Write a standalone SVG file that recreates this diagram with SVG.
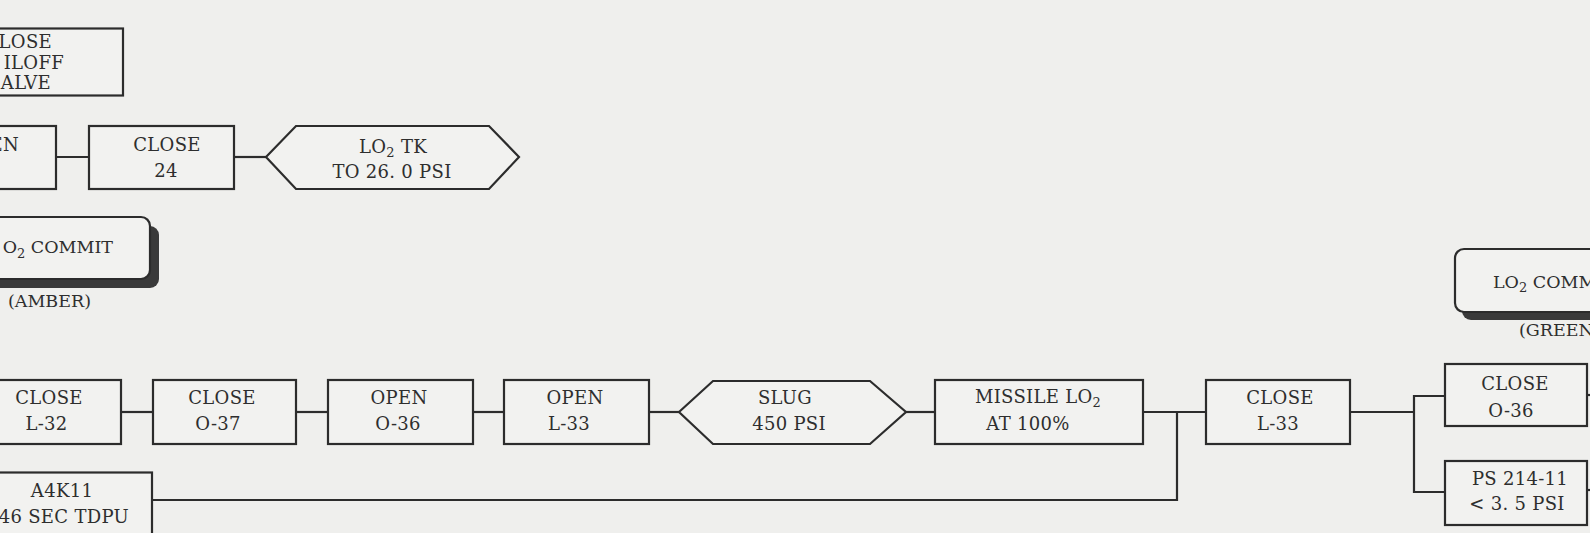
<svg xmlns="http://www.w3.org/2000/svg" width="1590" height="533" viewBox="0 0 1590 533">
  <style>
    .bg { fill: #efefed; }
    .box { fill: #f2f2f0; stroke: #2c2c2c; stroke-width: 2.2; }
    .shadow { fill: #3a3a3a; }
    .ln { fill: none; stroke: #2c2c2c; stroke-width: 2.2; }
    .t { font-family: "DejaVu Serif", "Liberation Serif", serif; font-size: 18px; fill: #2e2e2e; letter-spacing: 0.3px; }
    .c { text-anchor: middle; }
    .e { text-anchor: end; }
    .big { font-size: 17.5px; letter-spacing: 0; }
    .sub { font-size: 13px; }
  </style>

  <rect class="bg" x="0" y="0" width="1590" height="533"/>

  <!-- connectors -->
  <g id="connectors">
    <line class="ln" x1="56" y1="157" x2="89" y2="157"/>
    <line class="ln" x1="234" y1="157" x2="266" y2="157"/>
    <line class="ln" x1="121" y1="412" x2="153" y2="412"/>
    <line class="ln" x1="296" y1="412" x2="328" y2="412"/>
    <line class="ln" x1="473" y1="412" x2="504" y2="412"/>
    <line class="ln" x1="649" y1="412" x2="679" y2="412"/>
    <line class="ln" x1="906" y1="412" x2="935" y2="412"/>
    <line class="ln" x1="1143" y1="412" x2="1206" y2="412"/>
    <polyline class="ln" points="152,500 1177,500 1177,412"/>
    <line class="ln" x1="1350" y1="412" x2="1414" y2="412"/>
    <polyline class="ln" points="1445,396 1414,396 1414,492 1445,492"/>
    <line class="ln" x1="1587" y1="395" x2="1590" y2="395"/>
    <line class="ln" x1="1587" y1="490" x2="1590" y2="490"/>
  </g>

  <!-- top row -->
  <g id="close-boiloff-valve">
    <rect class="box" x="-10" y="28.5" width="133" height="67"/>
    <text class="t e" x="52" y="48">LOSE</text>
    <text class="t e" x="64" y="68.5">ILOFF</text>
    <text class="t e" x="51" y="89">ALVE</text>
  </g>
  <g id="open-top">
    <rect class="box" x="-10" y="126" width="66" height="63"/>
    <text class="t e" x="19" y="151">EN</text>
  </g>
  <g id="close-24">
    <rect class="box" x="89" y="126" width="145" height="63"/>
    <text class="t c" x="167" y="151">CLOSE</text>
    <text class="t c" x="166" y="177">24</text>
  </g>
  <g id="lo2-tk-26psi">
    <polygon class="box" points="266,157 296,126 489,126 519,157 489,189 296,189"/>
    <text class="t c" x="393" y="152.5">LO<tspan class="sub" dy="4">2</tspan><tspan dy="-4"> TK</tspan></text>
    <text class="t c" x="392" y="178">TO 26. 0 PSI</text>
  </g>

  <!-- commit indicators -->
  <g id="lo2-commit-amber">
    <rect class="shadow" x="-11" y="226" width="170" height="62" rx="9"/>
    <rect class="box" x="-20" y="217" width="170" height="62" rx="9"/>
    <text class="t big e" x="113" y="253">O<tspan class="sub" dy="5">2</tspan><tspan dy="-5"> COMMIT</tspan></text>
    <text class="t big c" x="49.5" y="307">(AMBER)</text>
  </g>
  <g id="lo2-commit-green">
    <rect class="shadow" x="1462" y="257" width="170" height="63" rx="9"/>
    <rect class="box" x="1455" y="249" width="170" height="63" rx="9"/>
    <text class="t big" x="1493" y="288">LO<tspan class="sub" dy="4">2</tspan><tspan dy="-4"> COMM</tspan></text>
    <text class="t big" x="1519" y="336">(GREEN</text>
  </g>

  <!-- main sequence -->
  <g id="close-l32">
    <rect class="box" x="-30" y="380" width="151" height="64"/>
    <text class="t c" x="49" y="404">CLOSE</text>
    <text class="t c" x="46.5" y="430">L-32</text>
  </g>
  <g id="close-o37">
    <rect class="box" x="153" y="380" width="143" height="64"/>
    <text class="t c" x="222" y="404">CLOSE</text>
    <text class="t c" x="218" y="430">O-37</text>
  </g>
  <g id="open-o36">
    <rect class="box" x="328" y="380" width="145" height="64"/>
    <text class="t c" x="399" y="404">OPEN</text>
    <text class="t c" x="398" y="430">O-36</text>
  </g>
  <g id="open-l33">
    <rect class="box" x="504" y="380" width="145" height="64"/>
    <text class="t c" x="575" y="404">OPEN</text>
    <text class="t c" x="569" y="430">L-33</text>
  </g>
  <g id="slug-450psi">
    <polygon class="box" points="679,412 713,381 870,381 906,412 870,444 713,444"/>
    <text class="t c" x="785" y="404">SLUG</text>
    <text class="t c" x="789" y="430">450 PSI</text>
  </g>
  <g id="missile-lo2-100">
    <rect class="box" x="935" y="380" width="208" height="64"/>
    <text class="t c" x="1038" y="403">MISSILE LO<tspan class="sub" dy="4">2</tspan></text>
    <text class="t c" x="1028" y="430">AT 100%</text>
  </g>
  <g id="close-l33">
    <rect class="box" x="1206" y="380" width="144" height="64"/>
    <text class="t c" x="1280" y="404">CLOSE</text>
    <text class="t c" x="1278" y="430">L-33</text>
  </g>
  <g id="close-o36">
    <rect class="box" x="1445" y="364" width="142" height="62"/>
    <text class="t c" x="1515" y="390">CLOSE</text>
    <text class="t c" x="1511" y="417">O-36</text>
  </g>
  <g id="ps214-11">
    <rect class="box" x="1445" y="461" width="142" height="64"/>
    <text class="t c" x="1520" y="485">PS 214-11</text>
    <text class="t c" x="1517" y="510">&lt; 3. 5 PSI</text>
  </g>
  <g id="a4k11-tdpu">
    <rect class="box" x="-10" y="472.5" width="162" height="80"/>
    <text class="t c" x="62" y="497">A4K11</text>
    <text class="t e" x="129" y="523">46 SEC TDPU</text>
  </g>
</svg>
